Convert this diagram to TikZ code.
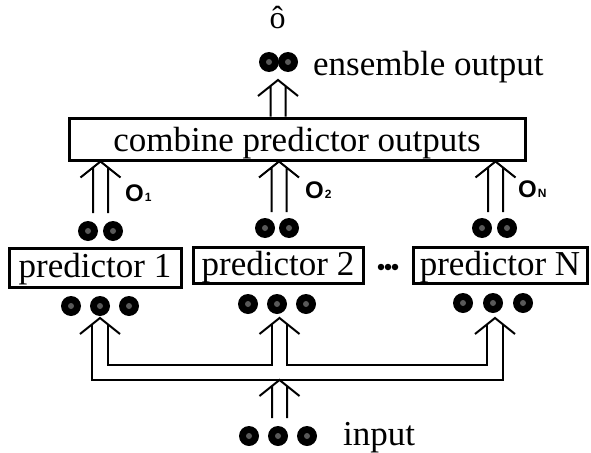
\documentclass[tikz,border=0pt]{standalone}
\usepackage{fontspec}
\setmainfont{Liberation Serif}
\setsansfont{Liberation Sans}
\usetikzlibrary{calc}

\tikzset{
  unit/.style={circle, fill=black, minimum size=20pt, inner sep=0pt,
    path picture={\fill[black!65] (path picture bounding box.center) circle (3pt);}},
  sdot/.style={circle, fill=black, minimum size=6.5pt, inner sep=0pt},
  boxbase/.style={draw, line width=3pt, inner sep=0pt,
    font=\fontsize{35}{35}\selectfont},
  cmbbox/.style={boxbase, text height=28pt, text depth=3pt},
  predbox/.style={boxbase, text height=26pt, text depth=6pt},
  lbl/.style={font=\fontsize{35}{35}\selectfont, inner sep=0pt, anchor=base west},
  olbl/.style={font=\fontsize{24}{24}\sffamily\bfseries, inner sep=0pt, anchor=base west},
  wire/.style={line width=2pt},
  % double-shafted arrow with an open V head at the target
  dbl/.style={to path={
      ($(\tikztostart)+(-7.5,0)$) -- ($(\tikztotarget)+(-7.5,6)$)
      ($(\tikztostart)+(7.5,0)$) -- ($(\tikztotarget)+(7.5,6)$)
      ($(\tikztotarget)+(-20,16)$) -- (\tikztotarget) -- ($(\tikztotarget)+(20,16)$)}},
}
\newcommand\openhead[1]{\draw[wire] ($(#1)+(-20,16)$) -- (#1) -- ($(#1)+(20,16)$);}

\begin{document}
\begin{tikzpicture}[x=1pt, y=-1pt]
\useasboundingbox (0,0) rectangle (591,452);

% ensemble output
\node[font=\fontsize{32}{32}\selectfont, inner sep=0pt, anchor=base] (hat) at (277.5,29) {ô};
\node[unit] (e1) at (269,62) {};
\node[unit] (e2) at (288,62) {};
\node[lbl] (elbl) at (313,75) {ensemble output};

% combining stage
\node[cmbbox, minimum width=456pt, minimum height=42pt] (cmb) at (297,139) {combine predictor outputs};

% predictors
\node[predbox, minimum width=172pt, minimum height=39pt] (p1) at (95,267.5) {predictor 1};
\node[predbox, minimum width=170pt, minimum height=36pt] (p2) at (278,265) {predictor 2};
\node[predbox, minimum width=174pt, minimum height=36pt] (pN) at (500,265) {predictor N};
\node[sdot] (d1) at (381,267) {};
\node[sdot] (d2) at (388,267) {};
\node[sdot] (d3) at (395,267) {};

% predictor outputs
\node[unit] (o1a) at (88,231) {};
\node[unit] (o1b) at (113,231) {};
\node[unit] (o2a) at (265,228) {};
\node[unit] (o2b) at (289,228) {};
\node[unit] (oNa) at (482,228) {};
\node[unit] (oNb) at (507,228) {};

% predictor inputs
\node[unit] (i1a) at (71,306) {};
\node[unit] (i1b) at (100,306) {};
\node[unit] (i1c) at (129,306) {};
\node[unit] (i2a) at (248,304) {};
\node[unit] (i2b) at (277,304) {};
\node[unit] (i2c) at (306,304) {};
\node[unit] (iNa) at (463,303) {};
\node[unit] (iNb) at (493,303) {};
\node[unit] (iNc) at (523,303) {};

% network input
\node[unit] (x1) at (249,436) {};
\node[unit] (x2) at (278,436) {};
\node[unit] (x3) at (307,436) {};
\node[lbl] (inlbl) at (343,445) {input};

% output labels
\node[olbl] (l1) at (125,201) {O\hspace{1pt}{\fontsize{12}{12}\selectfont 1}};
\node[olbl] (l2) at (305,198) {O\hspace{1pt}{\fontsize{12}{12}\selectfont 2}};
\node[olbl] (lN) at (518,197) {O\hspace{1pt}{\fontsize{12}{12}\selectfont N}};

% arrows into the combiner and out of it
\coordinate (t1) at (100.5,213);
\coordinate (t2) at (279,212);
\coordinate (tN) at (495.5,212);
\draw[wire] (t1) to[dbl] (t1 |- cmb.south);
\draw[wire] (t2) to[dbl] (t2 |- cmb.south);
\draw[wire] (tN) to[dbl] (tN |- cmb.south);
\coordinate (eo) at (278,80);
\draw[wire] (eo |- cmb.north) to[dbl] (eo);

% input fan-out
\coordinate (jin) at (279.5,380);
\coordinate (xt) at (279.5,418);
\draw[wire] (xt) to[dbl] (jin);
\coordinate (h1) at (100,318);
\coordinate (h2) at (279.5,318);
\coordinate (hN) at (495,318);
\draw[wire] (92,324) -- (92,380) -- (503,380) -- (503,324);
\draw[wire] (108,324) -- (108,365) -- (272,365) -- (272,324);
\draw[wire] (287,324) -- (287,365) -- (487,365) -- (487,324);
\openhead{h1}
\openhead{h2}
\openhead{hN}
\end{tikzpicture}
\end{document}
